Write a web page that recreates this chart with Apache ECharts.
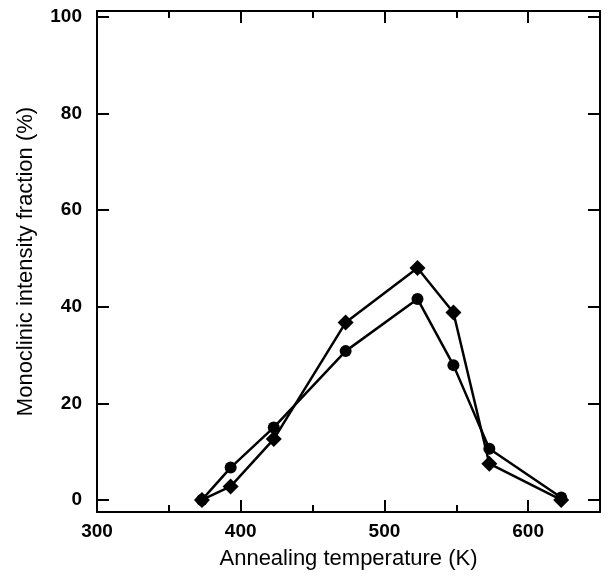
<!DOCTYPE html>
<html>
<head>
<meta charset="utf-8">
<script src="https://cdn.jsdelivr.net/npm/echarts@6/dist/echarts.min.js"></script>
<style>
  html, body { margin: 0; padding: 0; background: #fff; }
  #chart { width: 612px; height: 576px; }
</style>
</head>
<body>
<div id="chart"></div>
<script>
// annealing temperatures (K)
var temps = [373, 393, 423, 473, 523, 548, 573, 623]
// monoclinic intensity fraction (%)
var circleVals = [0, 6.7, 15.0, 30.8, 41.6, 27.9, 10.6, 0.5]
var diamondVals = [0, 2.8, 12.6, 36.7, 48.0, 38.8, 7.5, 0]
var xLabels = [300, 400, 500, 600]
var yLabels = [0, 20, 40, 60, 80, 100]

function pairs (xs, ys) {
    return xs.map(function (x, i) { return [x, ys[i]] })
}

var chart = echarts.init(document.getElementById('chart'))
var font = 'Liberation Sans, Arial, sans-serif'
var lineCol = '#000'

// common axis styling, ticks point inward
var xBase = {
    type: 'value',
    min: 300,
    max: 650,
    interval: 100,
    axisLine: { show: true, onZero: false, lineStyle: { color: lineCol, width: 2 } },
    axisTick: { show: true, inside: true, length: 12, lineStyle: { color: lineCol, width: 2 } },
    minorTick: { show: true, splitNumber: 2, length: 7, lineStyle: { color: lineCol, width: 2 } },
    splitLine: { show: false }
}
var yBase = {
    type: 'value',
    min: -2.5,
    max: 101.2,
    axisLine: { show: true, onZero: false, lineStyle: { color: lineCol, width: 2 } },
    axisTick: { show: true, inside: true, length: 12, lineStyle: { color: lineCol, width: 2 } },
    splitLine: { show: false }
}

chart.setOption({
    backgroundColor: '#fff',
    animation: false,
    grid: { left: 97, right: 12, top: 11, bottom: 64 },
    xAxis: [
        Object.assign({}, xBase, {
            position: 'bottom',
            name: 'Annealing temperature (K)',
            nameLocation: 'middle',
            nameGap: 36,
            nameTextStyle: { fontFamily: font, fontSize: 22, color: '#000' },
            axisLabel: {
                margin: 10,
                fontFamily: font,
                fontSize: 19,
                fontWeight: 'bold',
                color: '#000',
                showMaxLabel: false,
                formatter: function (v) { return xLabels.indexOf(v) >= 0 ? String(v) : '' }
            }
        }),
        Object.assign({}, xBase, { position: 'top', axisLabel: { show: false } })
    ],
    yAxis: [
        Object.assign({}, yBase, {
            position: 'left',
            name: 'Monoclinic intensity fraction (%)',
            nameLocation: 'middle',
            nameGap: 60,
            nameTextStyle: { fontFamily: font, fontSize: 22, color: '#000' },
            axisLabel: {
                margin: 15,
                fontFamily: font,
                fontSize: 19,
                fontWeight: 'bold',
                color: '#000',
                showMinLabel: false,
                formatter: function (v) { return yLabels.indexOf(v) >= 0 ? String(v) : '' }
            }
        }),
        Object.assign({}, yBase, { position: 'right', axisLabel: { show: false } })
    ],
    series: [
        {
            type: 'line',
            data: pairs(temps, circleVals),
            symbol: 'circle',
            symbolSize: 12,
            lineStyle: { color: '#000', width: 2.5 },
            itemStyle: { color: '#000' },
            z: 3
        },
        {
            type: 'line',
            data: pairs(temps, diamondVals),
            symbol: 'diamond',
            symbolSize: [16, 16],
            lineStyle: { color: '#000', width: 2.5 },
            itemStyle: { color: '#000' },
            z: 2
        }
    ]
})
</script>
</body>
</html>
